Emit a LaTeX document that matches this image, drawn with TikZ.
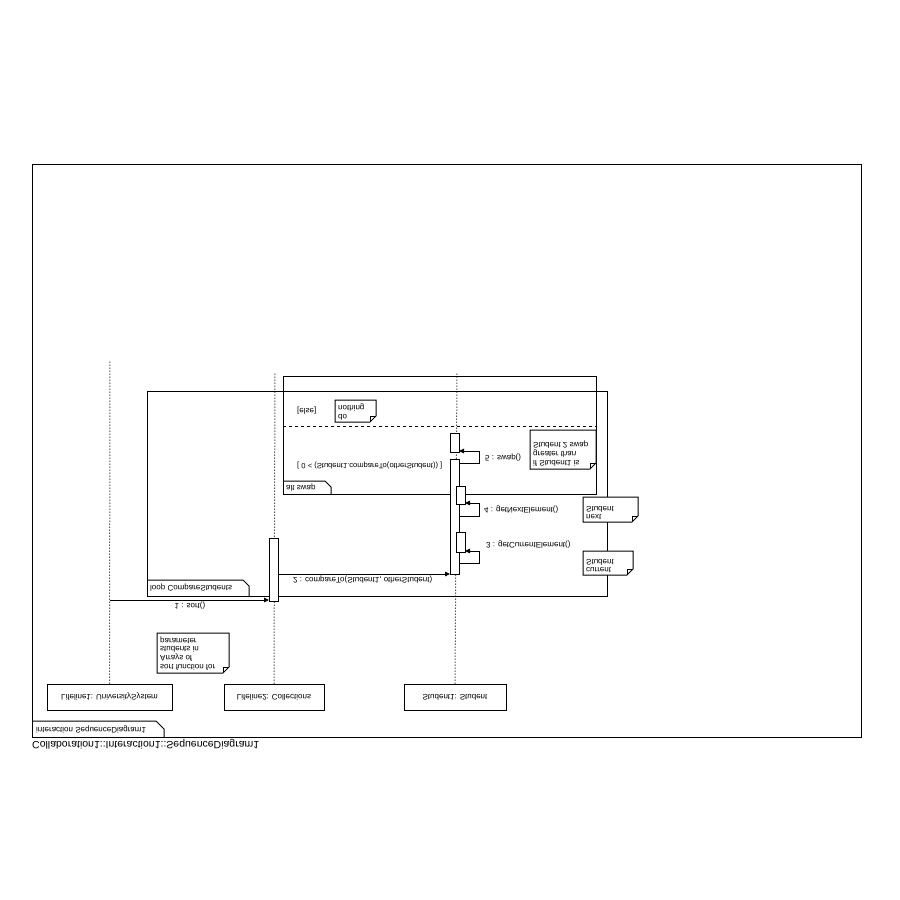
\documentclass[tikz,border=0pt]{standalone}
\usepackage{fontspec}
\setmainfont{Liberation Sans}
\usetikzlibrary{arrows.meta}
\begin{document}
\begin{tikzpicture}[x=1pt,y=-1pt,
  line/.style={line width=1pt},
  txt/.style={yscale=-1,inner sep=0pt,font=\fontsize{8}{8.6}\selectfont,align=left},
  lifebox/.style={draw,line width=1pt,yscale=-1,inner sep=0pt,minimum height=26pt,font=\fontsize{8}{9}\selectfont},
  lifeline/.style={line width=1pt,dotted},
  actbox/.style={draw,line width=1pt,fill=white},
  msg/.style={line width=1pt,-{Triangle[length=5pt,width=4.5pt]}},
  fragment/.style={draw,line width=1pt},
  notebox/.style={draw,line width=1pt,fill=white}
]
\useasboundingbox (0,0) rectangle (900,900);

% outer interaction frame and its tab
\draw[line] (32,164) rectangle (861,737);
\draw[line] (32,721) -- (156,721) -- (164,729) -- (164,737);
\node[txt,anchor=west] (frametab) at (36,730) {interaction SequenceDiagram1};
\node[txt,anchor=west,font=\fontsize{10.5}{12}\selectfont] (caption) at (32,744) {Collaboration1::Interaction1::SequenceDiagram1};

% lifeline heads
\node[lifebox,minimum width=125pt] (ll1) at (109.5,697) {Lifeline1: UniversitySystem};
\node[lifebox,minimum width=100pt] (ll2) at (274,697) {Lifeline2: Collections};
\node[lifebox,minimum width=102pt] (ll3) at (455,697) {Student1: Student};

% lifelines
\coordinate (t1) at (110,360);
\coordinate (t2) at (275,372);
\coordinate (t3) at (457,372);
\draw[lifeline] (ll1.south) -- (t1);
\draw[lifeline] (ll2.south) -- (t2);
\draw[lifeline] (ll3.south) -- (t3);

% loop fragment
\draw[fragment] (147,391) rectangle (607,596);
\draw[line] (147,580) -- (243,580) -- (249,586) -- (249,596);
\node[txt,anchor=west] (looptab) at (150,588) {loop CompareStudents};

% alt fragment
\draw[fragment] (283,376) rectangle (596,494);
\draw[line,dashed] (283,426.5) -- (596,426.5);
\draw[line] (283,481) -- (325,481) -- (331,487) -- (331,494);
\node[txt,anchor=west] (alttab) at (286,488) {alt swap};
\node[txt,anchor=west,font=\fontsize{7.6}{8.6}\selectfont] (guard1) at (297,465) {[ 0 < (Student1.compareTo(otherStudent)) ]};
\node[txt,anchor=west] (guard2) at (297,411) {[else]};

% activations
\draw[actbox] (269,538) rectangle (278,601);
\coordinate (a2in) at (269,600);
\coordinate (a2out) at (278,574);
\draw[actbox] (450,459) rectangle (459,574);
\coordinate (a3in) at (450,574);
\draw[actbox] (456,532) rectangle (465,552);
\draw[actbox] (456,486) rectangle (465,504);
\draw[actbox] (450,433) rectangle (459,452);

% messages
\draw[msg] (110,600) -- (a2in);
\node[txt] (m1) at (190,606) {1 : sort()};
\draw[msg] (a2out) -- (a3in);
\node[txt,anchor=west] (m2) at (293,580) {2 : compareTo(Student1, otherStudent)};

\coordinate (s3a) at (459,563);
\coordinate (s3b) at (465,551);
\draw[msg] (s3a) -- (479,563) -- (479,551) -- (s3b);
\node[txt,anchor=west] (m3) at (486,545) {3 : getCurrentElement()};

\coordinate (s4a) at (459,516);
\coordinate (s4b) at (465,503);
\draw[msg] (s4a) -- (479,516) -- (479,503) -- (s4b);
\node[txt,anchor=west] (m4) at (484,510) {4 : getNextElement()};

\coordinate (s5a) at (459,463);
\coordinate (s5b) at (459,451);
\draw[msg] (s5a) -- (479,463) -- (479,451) -- (s5b);
\node[txt,anchor=west] (m5) at (485,458) {5 : swap()};

% notes (folded corner drawn at the lower right)
\newcommand{\notebody}[4]{%
  \draw[notebox] (#1,#2) -- (#3,#2) -- (#3,#4-6) -- (#3-6,#4) -- (#1,#4) -- cycle;
  \draw[line] (#3-6,#4) -- (#3-6,#4-6) -- (#3,#4-6);}

\notebody{157}{633}{229}{673}
\node[txt,anchor=north west] (n1) at (160,670) {sort function for\\Arrays of\\students in\\parameter};

\notebody{335}{400}{376}{422}
\node[txt,anchor=north west] (n2) at (338,420) {do\\nothing};

\notebody{530}{430}{596}{469}
\node[txt,anchor=north west] (n3) at (533,466) {if Student1 is\\greater than\\Student 2 swap};

\notebody{583}{497}{638}{522}
\node[txt,anchor=north west] (n4) at (586,520) {next\\Student};

\notebody{583}{551}{633}{575}
\node[txt,anchor=north west] (n5) at (586,573) {current\\Student};
\end{tikzpicture}
\end{document}
